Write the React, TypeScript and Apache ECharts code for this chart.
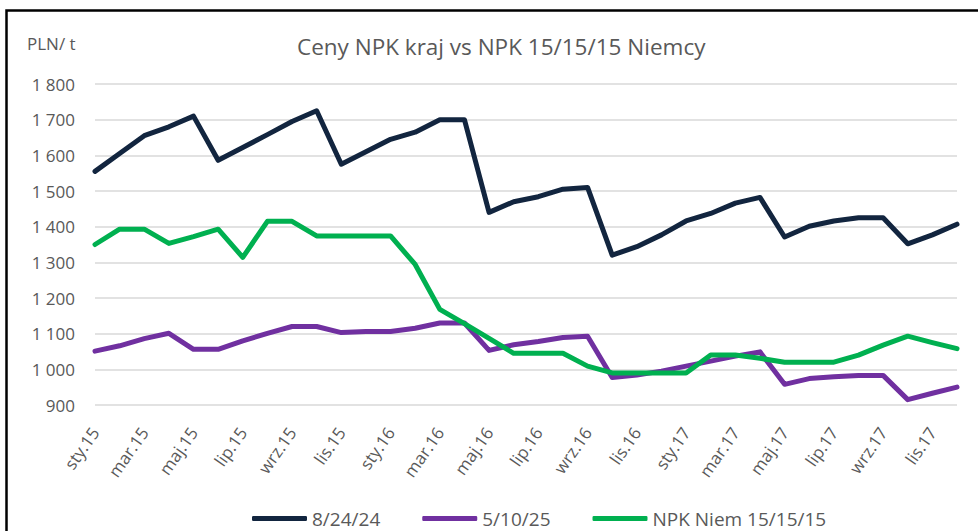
import React, { useEffect, useRef } from "react";
import * as echarts from "echarts";

const months = ["sty", "lut", "mar", "kwi", "maj", "cze", "lip", "sie", "wrz", "paź", "lis", "gru"];
const years = ["15", "16", "17"];
const categories: string[] = years.flatMap((y) => months.map((m) => `${m}.${y}`));

const seriesNames = ["8/24/24", "5/10/25", "NPK Niem 15/15/15"];

const npk82424 = [
  1555, 1605, 1655, 1680, 1710, 1586, 1622, 1658, 1695, 1725, 1575, 1610,
  1645, 1665, 1700, 1700, 1440, 1470, 1484, 1505, 1510, 1320, 1344, 1377,
  1416, 1437, 1466, 1482, 1371, 1401, 1416, 1425, 1425, 1352, 1377, 1407,
];
const npk51025 = [
  1051, 1066, 1086, 1101, 1056, 1056, 1080, 1101, 1120, 1120, 1103, 1106,
  1106, 1115, 1130, 1130, 1053, 1069, 1078, 1089, 1093, 977, 984, 995,
  1009, 1023, 1037, 1049, 958, 974, 979, 983, 983, 915, 933, 950,
];
const npkNiemcy = [
  1350, 1393, 1393, 1353, 1372, 1393, 1314, 1415, 1415, 1374, 1374, 1374,
  1374, 1294, 1168, 1128, 1087, 1045, 1045, 1045, 1009, 990, 990, 990,
  990, 1040, 1040, 1031, 1020, 1020, 1020, 1040, 1068, 1093, 1075, 1058,
];

const colors = ["#12253f", "#7030a0", "#00b050"];
const FONT = '"Open Sans", "Noto Sans", sans-serif';
const GRAY = "#595959";

export default function App() {
  const ref = useRef<HTMLDivElement>(null);
  useEffect(() => {
    if (!ref.current) return;
    const chart = echarts.init(ref.current, undefined, { renderer: "svg" });
    const data = [npk82424, npk51025, npkNiemcy];
    chart.setOption({
      animation: false,
      backgroundColor: "#ffffff",
      textStyle: { fontFamily: FONT },
      title: {
        text: "Ceny NPK kraj vs NPK 15/15/15 Niemcy",
        left: 292,
        top: 30,
        textStyle: { fontFamily: FONT, fontSize: 22.5, fontWeight: "normal", color: GRAY },
      },
      graphic: [
        {
          type: "rect",
          shape: { x: 6.5, y: 10.5, width: 1100, height: 700 },
          style: { fill: "none", stroke: "#000000", lineWidth: 2.5 },
          silent: true,
        },
        {
          type: "text",
          left: 27,
          top: 35,
          style: { text: "PLN/ t", fontFamily: FONT, fontSize: 17, fill: GRAY },
        },
      ],
      legend: {
        left: 247,
        top: 504,
        icon: "roundRect",
        itemWidth: 55,
        itemHeight: 5,
        itemGap: 42,
        textStyle: { fontFamily: FONT, fontSize: 19, color: GRAY },
        data: seriesNames,
      },
      grid: { left: 95, right: 21, top: 84, bottom: 126, containLabel: false },
      xAxis: {
        type: "category",
        data: categories,
        boundaryGap: false,
        axisLine: { show: false },
        axisTick: { show: false },
        axisLabel: {
          interval: 1,
          rotate: 55,
          margin: 24,
          fontFamily: FONT,
          fontSize: 17,
          color: GRAY,
        },
      },
      yAxis: {
        type: "value",
        min: 900,
        max: 1800,
        interval: 100,
        axisLine: { show: false },
        axisTick: { show: false },
        splitLine: { lineStyle: { color: "#d9d9d9", width: 1.5 } },
        axisLabel: {
          margin: 20,
          fontFamily: FONT,
          fontSize: 17,
          color: GRAY,
          formatter: (v: number) => {
            const s = String(v);
            return s.length > 3 ? s.slice(0, s.length - 3) + " " + s.slice(-3) : s;
          },
        },
      },
      series: seriesNames.map((name, i) => ({
        name,
        type: "line",
        data: data[i],
        symbol: "none",
        color: colors[i],
        lineStyle: { width: 5, color: colors[i], cap: "round", join: "round" },
      })),
    });
    return () => chart.dispose();
  }, []);
  return (
    <div
      ref={ref}
      style={{ position: "absolute", left: 0, top: 0, width: 978, height: 531 }}
    />
  );
}
